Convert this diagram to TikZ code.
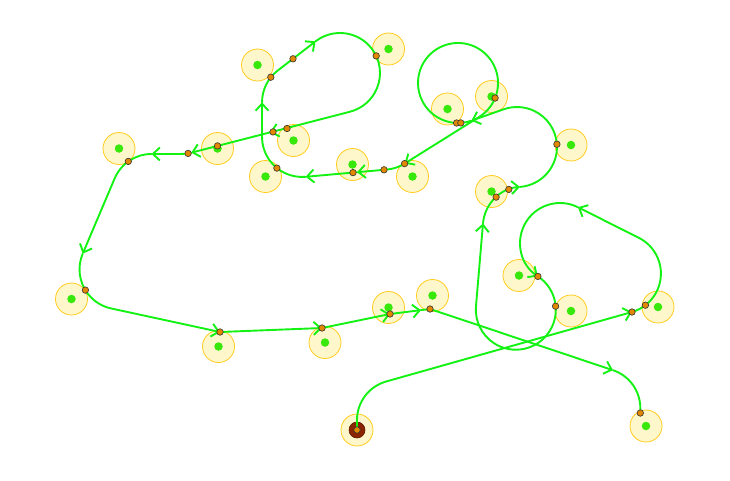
\documentclass[tikz,border=0pt]{standalone}
\usetikzlibrary{arrows.meta}
\definecolor{wpfill}{RGB}{255,247,204}
\definecolor{wpline}{RGB}{255,204,30}
\definecolor{dotgreen}{RGB}{55,232,10}
\definecolor{trackgreen}{RGB}{20,242,20}
\definecolor{odot}{RGB}{225,135,0}
\definecolor{startbrown}{RGB}{139,37,0}
\begin{document}
\begin{tikzpicture}[x=1pt,y=1pt,yscale=-1,
  wp/.style={circle, draw=wpline, fill=wpfill, line width=0.8pt, minimum size=32pt, inner sep=0pt},
  ctr/.style={circle, fill=dotgreen, minimum size=8.5pt, inner sep=0pt},
  startdot/.style={circle, fill=startbrown, draw=startbrown!70!black, line width=0.6pt, minimum size=16pt, inner sep=0pt},
  od/.style={circle, fill=odot, draw=black!80, line width=0.6pt, minimum size=6.5pt, inner sep=0pt},
  trk/.style={draw=trackgreen, line width=1.9pt, line join=round, line cap=round},
  arr/.style={trk, -{Straight Barb[length=7pt,width=13pt]}}]
\useasboundingbox (0,0) rectangle (730,480);
% waypoint circles
\node[wp] (w1) at (357,430) {};
\node[wp] (w2) at (658,307) {};
\node[wp] (w3) at (571,311) {};
\node[wp] (w4) at (519,275.5) {};
\node[wp] (w5) at (491.5,191.5) {};
\node[wp] (w6) at (571,145) {};
\node[wp] (w7) at (491.5,96.5) {};
\node[wp] (w8) at (447.5,109) {};
\node[wp] (w9) at (412.5,176.5) {};
\node[wp] (w10) at (352.5,164.5) {};
\node[wp] (w11) at (293.5,140.5) {};
\node[wp] (w12) at (265.5,176.5) {};
\node[wp] (w13) at (257.5,65) {};
\node[wp] (w14) at (388.5,49) {};
\node[wp] (w15) at (217.5,148.5) {};
\node[wp] (w16) at (119,148.5) {};
\node[wp] (w17) at (71.5,299) {};
\node[wp] (w18) at (218.5,346.5) {};
\node[wp] (w19) at (325,342.5) {};
\node[wp] (w20) at (388.5,307.5) {};
\node[wp] (w21) at (432.5,295.5) {};
\node[wp] (w22) at (646,426) {};
% centre dots
\foreach \i in {2,...,22}{\node[ctr] (c\i) at (w\i) {};}
\node[startdot] (c1) at (w1) {};
% path points
\coordinate (s0) at (357,430);
\coordinate (p1) at (632,312);
\coordinate (p2) at (577.9,207.2);
\coordinate (p3) at (537.9,276.35);
\coordinate (p4) at (483.0,223.4);
\coordinate (p5) at (519.9,186.9);
\coordinate (p6) at (471.3,120.7);
\coordinate (p7) at (404.6,163.6);
\coordinate (p8) at (357,172.2);
\coordinate (p9) at (305.6,176.8);
\coordinate (p10) at (262.04,102.3);
\coordinate (p11) at (315.6,41.3);
\coordinate (p12) at (270,132.4);
\coordinate (p13) at (191.2,152.7);
\coordinate (p14) at (151.5,154);
\coordinate (p15) at (82.7,253.7);
\coordinate (p16) at (220,332);
\coordinate (p17) at (322,328);
\coordinate (p18) at (390,314);
\coordinate (p19) at (421,310.1);
\coordinate (p20) at (430,309);
\coordinate (p21) at (613,370.2);
\coordinate (p22) at (640.3,413);
% track
\draw[arr] (s0) -- (357,420) arc[start angle=180,end angle=254.2,radius=40] -- (p1);
\draw[arr] (p1) arc[start angle=73.9,end angle=-63.5,radius=40] -- (p2);
\draw[arr] (p2) arc[start angle=-63.5,end angle=-236.5,radius=40];
\draw[arr] (p3) arc[start angle=-56.5,end angle=184.9,radius=40] -- (p4);
\draw[arr] (p4) arc[start angle=184.9,end angle=265.8,radius=40];
\draw[arr] (p5) arc[start angle=85.8,end angle=-109.4,radius=40] -- (p6);
\draw[arr] (p6) arc[start angle=70.6,end angle=418,radius=40] -- (p7);
\draw[arr] (p7) arc[start angle=58,end angle=84.9,radius=40] -- (p8);
\draw[arr] (p8) -- (p9);
\draw[arr] (p9) arc[start angle=84.9,end angle=180,radius=40] -- (p10);
\draw[arr] (p10) arc[start angle=180,end angle=232.4,radius=40] -- (p11);
\draw[arr] (p11) arc[start angle=232.4,end angle=435.5,radius=40] -- (p12);
\draw[arr] (p12) -- (p13);
\draw[arr] (p13) arc[start angle=75.5,end angle=90,radius=40] -- (p14);
\draw[arr] (p14) arc[start angle=-90,end angle=-157,radius=40] -- (p15);
\draw[arr] (p15) arc[start angle=203,end angle=102.2,radius=40] -- (p16);
\draw[arr] (p16) -- (p17);
\draw[arr] (p17) -- (p18);
\draw[arr] (p18) -- (p19);
\draw[arr] (p19) -- (p20) -- (p21);
\draw[trk] (p21) arc[start angle=-71.5,end angle=0,radius=40] -- (p22);
% orange markers on the track
\foreach \x/\y [count=\k] in {357/430, 632/312, 645.4/305.2, 537.9/276.4, 555.6/306.2,
  496.1/197.1, 508.8/189.4, 556.9/144.2, 495.1/98, 456.6/123, 460.8/122.9,
  404.6/163.6, 384/169.8, 353/172.6, 276.9/168.1, 273/131.9, 287/128.5,
  270.8/77.2, 293/58.8, 376.2/55.9, 217.5/145.9, 188.1/153.4, 128.3/161.4,
  85.4/290.1, 220/332, 322/328, 390/314, 430/309, 640.3/413}
  {\node[od] (m\k) at (\x,\y) {};}
\end{tikzpicture}
\end{document}
